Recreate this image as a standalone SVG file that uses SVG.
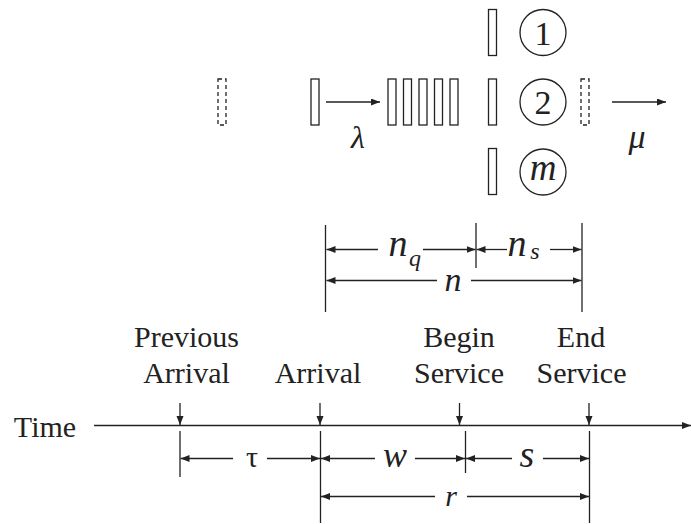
<svg xmlns="http://www.w3.org/2000/svg" width="691" height="524" viewBox="0 0 691 524">
<defs>
<marker id="ah" markerUnits="userSpaceOnUse" markerWidth="10" markerHeight="8" refX="9" refY="3.5" orient="auto">
<path d="M0,0 L9,3.5 L0,7 z" fill="#222"/>
</marker>
<style>
.ln{stroke:#222;stroke-width:1.3;fill:none}
.ar{stroke:#222;stroke-width:1.3;fill:none;marker-end:url(#ah)}
.box{stroke:#222;stroke-width:1.3;fill:#fff}
.dbox{stroke:#222;stroke-width:1.3;fill:#fff;stroke-dasharray:4 3}
.t{font-family:"Liberation Serif","Times New Roman",serif;font-size:30px;fill:#222;text-anchor:middle}
.m{font-family:"Liberation Serif","Times New Roman",serif;font-size:34px;font-style:italic;fill:#222;text-anchor:middle}
.sub{font-family:"Liberation Serif","Times New Roman",serif;font-size:24px;font-style:italic;fill:#222;text-anchor:middle}
.d{font-family:"Liberation Serif","Times New Roman",serif;font-size:34px;fill:#222;text-anchor:middle}
</style>
</defs>

<g id="prev-customer"><rect class="dbox" x="218" y="79" width="8" height="46"/></g>
<g id="arriving-customer"><rect class="box" x="311" y="79" width="8" height="46"/></g>
<g id="queue">
<rect class="box" x="388" y="79" width="8" height="46"/>
<rect class="box" x="403.5" y="79" width="8" height="46"/>
<rect class="box" x="419" y="79" width="8" height="46"/>
<rect class="box" x="434.5" y="79" width="8" height="46"/>
<rect class="box" x="450" y="79" width="8" height="46"/>
</g>
<g id="server-1">
<rect class="box" x="488.5" y="9.5" width="8" height="46"/>
<circle class="ln" cx="543" cy="32.5" r="23"/>
<text class="d" x="543" y="44.5">1</text>
</g>
<g id="server-2">
<rect class="box" x="488.5" y="79" width="8" height="46"/>
<circle class="ln" cx="543" cy="102" r="23"/>
<text class="d" x="543" y="113.5">2</text>
</g>
<g id="server-m">
<rect class="box" x="488.5" y="148.5" width="8" height="46"/>
<circle class="ln" cx="543" cy="172" r="23"/>
<text class="m" x="543" y="180" style="font-size:37px">m</text>
</g>
<g id="departed"><rect class="dbox" x="581" y="79" width="8" height="46"/></g>

<g id="connectors">
<line class="ar" x1="326" y1="102" x2="380" y2="102"/>
<line class="ar" x1="612" y1="102" x2="666" y2="102"/>
<line class="ln" x1="325.5" y1="225" x2="325.5" y2="312"/>
<line class="ln" x1="476" y1="223" x2="476" y2="268"/>
<line class="ln" x1="582" y1="223" x2="582" y2="312"/>
<line class="ar" x1="378" y1="249.5" x2="326.5" y2="249.5"/>
<line class="ar" x1="423" y1="249.5" x2="475.5" y2="249.5"/>
<line class="ar" x1="507" y1="249.5" x2="476.5" y2="249.5"/>
<line class="ar" x1="550" y1="249.5" x2="581.5" y2="249.5"/>
<line class="ar" x1="437" y1="280.5" x2="326.5" y2="280.5"/>
<line class="ar" x1="471" y1="280.5" x2="581.5" y2="280.5"/>
<line class="ar" x1="94" y1="425.5" x2="691" y2="425.5"/>
<line class="ar" x1="180" y1="403" x2="180" y2="425"/>
<line class="ar" x1="320" y1="403" x2="320" y2="425"/>
<line class="ar" x1="459.5" y1="403" x2="459.5" y2="425"/>
<line class="ar" x1="589" y1="403" x2="589" y2="425"/>
<line class="ln" x1="180" y1="431" x2="180" y2="477"/>
<line class="ln" x1="320.5" y1="431" x2="320.5" y2="523"/>
<line class="ln" x1="465.5" y1="431" x2="465.5" y2="473"/>
<line class="ln" x1="589.5" y1="431" x2="589.5" y2="523"/>
<line class="ar" x1="233" y1="458.5" x2="180.5" y2="458.5"/>
<line class="ar" x1="267" y1="458.5" x2="320" y2="458.5"/>
<line class="ar" x1="375" y1="458.5" x2="321" y2="458.5"/>
<line class="ar" x1="415" y1="458.5" x2="465" y2="458.5"/>
<line class="ar" x1="512" y1="458.5" x2="466" y2="458.5"/>
<line class="ar" x1="543" y1="458.5" x2="589" y2="458.5"/>
<line class="ar" x1="435" y1="496.5" x2="321" y2="496.5"/>
<line class="ar" x1="467" y1="496.5" x2="589" y2="496.5"/>
</g>

<g id="labels">
<text class="m" x="358" y="148" style="font-size:32px">λ</text>
<text class="m" x="637" y="148">μ</text>
<text class="m" x="398" y="256" style="font-size:38px">n</text>
<text class="sub" x="415" y="266">q</text>
<text class="m" x="517" y="256" style="font-size:38px">n</text>
<text class="sub" x="535" y="259">s</text>
<text class="m" x="453" y="291" style="font-size:34px">n</text>
<text class="t" x="186.5" y="346.5">Previous</text>
<text class="t" x="186.5" y="383">Arrival</text>
<text class="t" x="318" y="383">Arrival</text>
<text class="t" x="459" y="346.5">Begin</text>
<text class="t" x="459" y="383">Service</text>
<text class="t" x="581" y="346.5">End</text>
<text class="t" x="581.5" y="383">Service</text>
<text class="t" x="45" y="437">Time</text>
<text class="t" x="252" y="467">τ</text>
<text class="m" x="395" y="467" style="font-size:36px">w</text>
<text class="m" x="527" y="467" style="font-size:38px">s</text>
<text class="m" x="451" y="506" style="font-size:30px">r</text>
</g>
</svg>
